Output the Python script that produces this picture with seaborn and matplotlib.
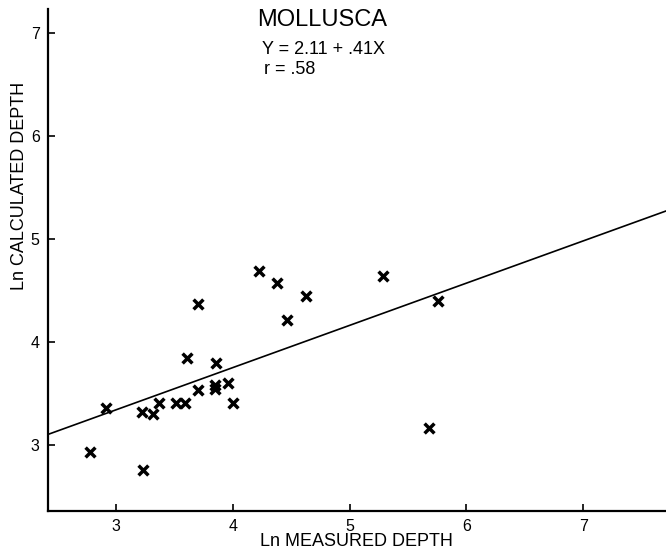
import numpy as np
import pandas as pd
import matplotlib
matplotlib.use("Agg")
import matplotlib.pyplot as plt
import seaborn as sns

# ---- data ----
measured = [2.78, 2.91, 3.23, 3.22, 3.32, 3.37, 3.51, 3.59, 3.61, 3.70, 3.70, 3.85,
            3.85, 3.86, 3.96, 4.00, 4.22, 4.38, 4.46, 4.63, 5.29, 5.76, 5.68]
calculated = [2.93, 3.36, 2.76, 3.32, 3.30, 3.41, 3.41, 3.41, 3.84, 4.37, 3.53, 3.58,
              3.54, 3.79, 3.60, 3.41, 4.69, 4.57, 4.21, 4.45, 4.64, 4.40, 3.16]
intercept = 2.11
slope = 0.41
r_value = ".58"
x_ticks = [3, 4, 5, 6, 7]
y_ticks = [3, 4, 5, 6, 7]
title = "MOLLUSCA"
x_label = "Ln MEASURED DEPTH"
y_label = "Ln CALCULATED DEPTH"

sns.set_theme(style="ticks")
plt.rcParams['font.family'] = ['Liberation Sans', 'DejaVu Sans']
plt.rcParams['text.color'] = 'black'
plt.rcParams['axes.labelcolor'] = 'black'
plt.rcParams['xtick.color'] = 'black'
plt.rcParams['ytick.color'] = 'black'

fig = plt.figure(figsize=(6.66, 5.53), dpi=100)
ax = fig.add_axes([48 / 666, 1 - 510.7 / 553, 1 - 48 / 666, (510.7 - 9.3) / 553])

xlim = (2.417, 7.71)
ylim = (2.36, 7.23)

df = pd.DataFrame({"measured": measured, "calculated": calculated})
sns.scatterplot(data=df, x="measured", y="calculated", marker="x", color="black",
                s=50, linewidth=2.5, ax=ax, zorder=3)

line_x = np.array(xlim)
line_df = pd.DataFrame({"x": line_x, "y": intercept + slope * line_x})
sns.lineplot(data=line_df, x="x", y="y", color="black", linewidth=1.2, ax=ax)

ax.set_xlim(*xlim)
ax.set_ylim(*ylim)
ax.set_xticks(x_ticks)
ax.set_yticks(y_ticks)
ax.set_xticklabels([str(t) for t in x_ticks], fontsize=11.5, color="black")
ax.set_yticklabels([str(t) for t in y_ticks], fontsize=11.5, color="black")
ax.tick_params(direction="in", length=5, width=1.2, colors="black", pad=6)
ax.set_xlabel("")
ax.set_ylabel("")
for side in ["top", "right"]:
    ax.spines[side].set_visible(False)
for side in ["left", "bottom"]:
    ax.spines[side].set_linewidth(1.6)
    ax.spines[side].set_color("black")

fig.text(356 / 666, 1 - 541 / 553, x_label, ha="center", va="center", fontsize=13, color="black")
fig.text(20 / 666, 1 - 186 / 553, y_label, ha="center", va="center", rotation=90,
         fontsize=13, color="black")
fig.text(257 / 666, 1 - 26 / 553, title, ha="left", va="baseline", fontsize=17, color="black")
fig.text(262 / 666, 1 - 54.5 / 553, f"Y = {intercept} + .{int(round(slope * 100))}X",
         ha="left", va="baseline", fontsize=13, color="black")
fig.text(264 / 666, 1 - 74 / 553, f"r = {r_value}", ha="left", va="baseline",
         fontsize=13, color="black")

fig.savefig("out.png", dpi=100, facecolor="white")
